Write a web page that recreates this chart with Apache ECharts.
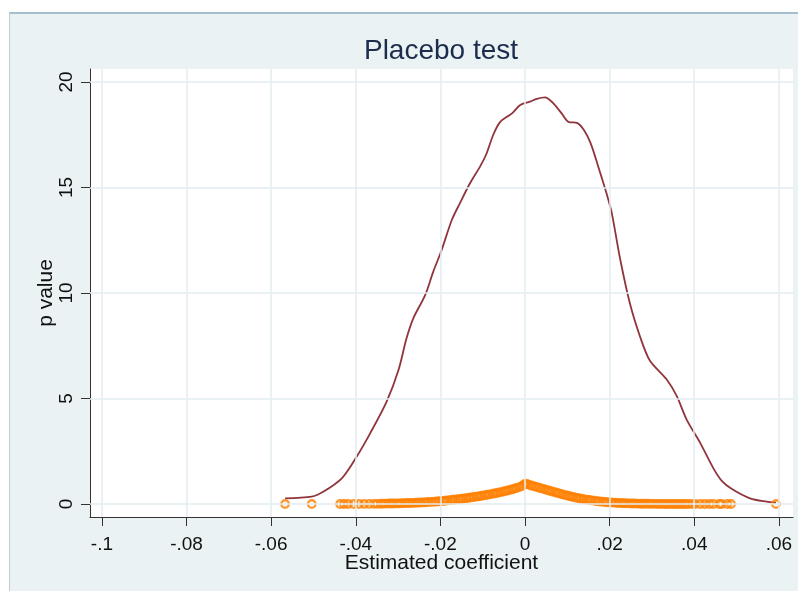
<!DOCTYPE html>
<html><head><meta charset="utf-8">
<script src="https://cdn.jsdelivr.net/npm/echarts@6/dist/echarts.min.js"></script>
<style>html,body{margin:0;padding:0;background:#fff}#c{width:798px;height:591px}</style>
</head><body><div id="c"></div>
<script>
// ---- data ----
const xTicks = [-0.1, -0.08, -0.06, -0.04, -0.02, 0, 0.02, 0.04, 0.06];
const yTicks = [0, 5, 10, 15, 20];

// kernel density of the placebo coefficients
const densityX = [-0.0567,-0.0504,-0.0477,-0.0433,-0.0398,-0.0366,-0.0327,-0.0299,-0.0280,-0.0264,-0.0236,-0.0217,-0.0197,-0.0173,-0.0154,-0.0130,-0.0106,-0.0091,-0.0075,-0.0059,-0.0039,-0.0028,-0.0012,0.0012,0.0028,0.0047,0.0067,0.0087,0.0102,0.0124,0.0140,0.0155,0.0173,0.0193,0.0205,0.0225,0.0248,0.0272,0.0295,0.0335,0.0359,0.0382,0.0414,0.0445,0.0465,0.0490,0.0532,0.0571,0.0593];
const densityY = [0.27,0.35,0.58,1.22,2.24,3.35,4.85,6.35,7.85,8.8,9.9,11.0,12.04,13.46,14.25,15.2,16.0,16.6,17.5,18.1,18.4,18.56,18.9,19.07,19.2,19.27,18.99,18.5,18.12,18.05,17.7,17.1,16.0,14.7,13.8,11.6,9.5,7.93,6.8,5.9,5.1,4.0,2.9,1.7,1.1,0.7,0.27,0.11,0.06];

// estimated coefficients and their p values (hollow circles)
const coefs = [-0.0567,-0.0504,-0.0437,-0.0428,-0.0418,-0.0405,-0.0392,-0.0380,-0.0368,-0.0357,-0.0349,-0.0341,
-0.0335,-0.0329,-0.0322,-0.0316,-0.0310,-0.0303,-0.0297,-0.0291,-0.0284,-0.0278,-0.0272,-0.0266,-0.0259,-0.0253,-0.0247,-0.0240,-0.0234,-0.0228,-0.0221,-0.0215,-0.0209,-0.0203,-0.0196,-0.0190,-0.0184,-0.0177,-0.0171,-0.0165,-0.0158,-0.0152,-0.0146,-0.0139,-0.0133,-0.0127,-0.0121,-0.0114,-0.0108,-0.0102,-0.0095,-0.0089,-0.0083,-0.0076,-0.0070,-0.0064,-0.0058,-0.0051,-0.0045,-0.0039,-0.0032,-0.0026,-0.0020,-0.0013,-0.0007,-0.0002,
0.0003,0.0009,0.0015,0.0021,0.0027,0.0033,0.0039,0.0046,0.0052,0.0058,0.0064,0.0071,0.0077,0.0083,0.0089,0.0096,0.0102,0.0108,0.0114,0.0121,0.0127,0.0133,0.0139,0.0146,0.0152,0.0158,0.0165,0.0171,0.0177,0.0184,0.0190,0.0196,0.0203,0.0209,0.0215,0.0221,0.0228,0.0234,0.0240,0.0247,0.0253,0.0259,0.0266,0.0272,0.0278,0.0284,0.0291,0.0297,0.0303,0.0310,0.0316,0.0322,0.0329,0.0335,0.0341,0.0348,0.0354,0.0360,0.0366,0.0373,0.0379,
0.0386,0.0395,0.0402,0.0414,0.0425,0.0436,0.0445,0.0459,0.0465,0.0478,0.0487,0.0593];
const pValues = [0.000,0.000,0.001,0.001,0.002,0.002,0.003,0.004,0.005,0.007,0.008,0.010,
0.018,0.020,0.022,0.024,0.026,0.029,0.032,0.036,0.040,0.044,0.048,0.053,0.058,0.064,0.070,0.077,0.085,0.093,0.102,0.112,0.122,0.133,0.145,0.157,0.170,0.184,0.198,0.212,0.227,0.242,0.258,0.276,0.294,0.312,0.330,0.350,0.370,0.390,0.412,0.435,0.458,0.483,0.508,0.535,0.562,0.590,0.620,0.652,0.685,0.720,0.756,0.800,0.850,0.940,
0.960,0.915,0.880,0.845,0.810,0.775,0.740,0.700,0.665,0.630,0.595,0.560,0.525,0.490,0.455,0.420,0.388,0.358,0.330,0.302,0.276,0.252,0.230,0.208,0.188,0.170,0.152,0.136,0.121,0.108,0.096,0.085,0.075,0.066,0.058,0.051,0.044,0.038,0.033,0.028,0.024,0.021,0.018,0.015,0.013,0.011,0.009,0.008,0.007,0.006,0.005,0.004,0.003,0.003,0.002,0.002,0.002,0.001,0.001,0.001,0.001,
0.001,0.001,0.000,0.000,0.000,0.000,0.000,0.000,0.000,0.000,0.000,0.000];

const titleText = 'Placebo test';
const xName = 'Estimated coefficient';
const yName = 'p value';

// ---- chart ----
const FONT = '"Liberation Sans", Arial, sans-serif';
const fmt = v => String(+(+v).toFixed(2)).replace(/^(-?)0\./, '$1.');
const chart = echarts.init(document.getElementById('c'), null, {renderer: 'canvas'});
const option = {
  animation: false,
  backgroundColor: '#ffffff',
  graphic: [
    {type: 'rect', z: -100, silent: true, shape: {x: 9, y: 13, width: 800, height: 590}, style: {fill: '#eaf2f3'}},
    {type: 'line', z: -99, silent: true, shape: {x1: 9, y1: 13, x2: 798, y2: 13}, style: {stroke: '#a6bfcf', lineWidth: 2}},
    {type: 'line', z: -99, silent: true, shape: {x1: 9.5, y1: 13, x2: 9.5, y2: 591}, style: {stroke: '#c3ccd2', lineWidth: 1}}
  ],
  title: {
    text: titleText, left: 441, top: 37, padding: 0, textAlign: 'center',
    textStyle: {fontFamily: FONT, fontSize: 28, fontWeight: 'normal', color: '#1c2c4c'}
  },
  grid: {left: 90, right: 5, top: 69, bottom: 74, show: true, backgroundColor: '#ffffff', borderWidth: 0, containLabel: false},
  xAxis: {
    type: 'value', min: -0.10281, max: 0.06334,
    name: xName, nameLocation: 'middle', nameGap: 36, nameMoveOverlap: false,
    nameTextStyle: {fontFamily: FONT, fontSize: 21, color: '#111'},
    axisLine: {show: true, onZero: false, lineStyle: {color: '#333', width: 1}},
    axisTick: {show: true, length: 9, customValues: xTicks, lineStyle: {color: '#333', width: 1}},
    axisLabel: {customValues: xTicks, formatter: fmt, margin: 18, fontFamily: FONT, fontSize: 19, color: '#111'},
    splitLine: {show: false}
  },
  yAxis: {
    type: 'value', min: -0.616, max: 20.616,
    name: yName, nameLocation: 'middle', nameGap: 33, nameRotate: 90, nameMoveOverlap: false,
    nameTextStyle: {fontFamily: FONT, fontSize: 21, color: '#111'},
    axisLine: {show: true, onZero: false, lineStyle: {color: '#333', width: 1}},
    axisTick: {show: true, length: 9, customValues: yTicks, lineStyle: {color: '#333', width: 1}},
    axisLabel: {customValues: yTicks, formatter: v => String(Math.round(v)), rotate: 90, margin: 14, fontFamily: FONT, fontSize: 19, color: '#111'},
    splitLine: {show: false}
  },
  series: [
    {
      type: 'line', data: [], z: 1, silent: true,
      markLine: {
        silent: true, symbol: ['none', 'none'], label: {show: false},
        lineStyle: {color: '#e3ecf1', width: 1.5, type: 'solid'},
        emphasis: {disabled: true},
        data: xTicks.map(v => ({xAxis: v})).concat(yTicks.map(v => ({yAxis: v})))
      }
    },
    {
      type: 'line', z: 3, silent: true, smooth: 0.3, showSymbol: false,
      data: densityX.map((x, i) => [x, densityY[i]]),
      lineStyle: {color: '#90353b', width: 1.8}
    },
    {
      type: 'scatter', z: 4, silent: true, symbol: 'circle', symbolSize: 7.5,
      data: coefs.map((x, i) => [x, pValues[i]]),
      itemStyle: {color: 'rgba(255,255,255,0)', borderColor: '#ff8000', borderWidth: 2.4}
    }
  ]
};
chart.setOption(option);
</script>
</body></html>
